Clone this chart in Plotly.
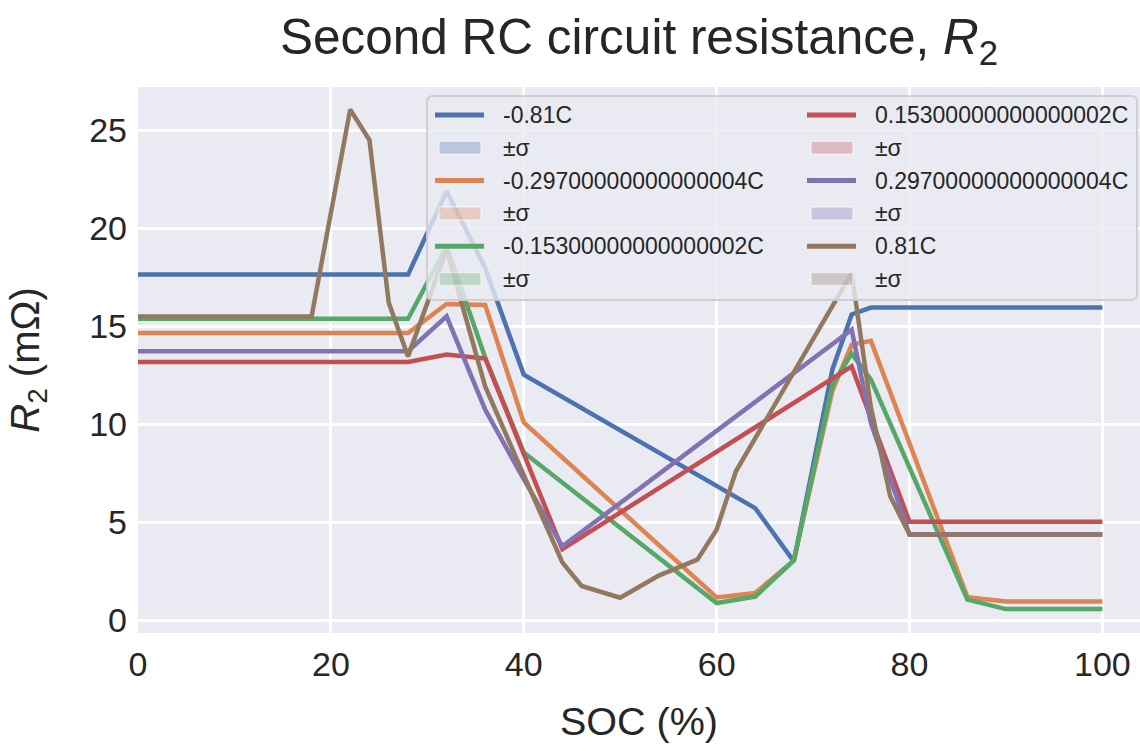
import plotly.graph_objects as go

# C-rate labels for each curve
rates = ["-0.81C", "-0.29700000000000004C", "-0.15300000000000002C",
         "0.15300000000000002C", "0.29700000000000004C", "0.81C"]

# SOC breakpoints (%) and R2 values (mOhm) for each C-rate
soc_m081 = [0, 28, 32, 36, 40, 64, 68, 72, 74, 76, 100]
r2_m081 = [17.63, 17.63, 21.88, 17.97, 12.53, 5.72, 3.0, 12.78, 15.6, 15.95, 15.95]

soc_m0297 = [0, 28, 32, 36, 40, 60, 64, 68, 72, 74, 76, 86, 90, 100]
r2_m0297 = [14.65, 14.65, 16.13, 16.08, 10.09, 1.16, 1.39, 3.05, 11.7, 14.05, 14.25, 1.18, 0.96, 0.96]

soc_m0153 = [0, 28, 32, 36, 40, 60, 64, 68, 72, 74, 76, 86, 90, 100]
r2_m0153 = [15.38, 15.38, 19.07, 13.4, 8.56, 0.88, 1.21, 3.05, 12.0, 13.6, 12.27, 1.05, 0.57, 0.57]

soc_p0153 = [0, 28, 32, 36, 44, 74, 80, 100]
r2_p0153 = [13.17, 13.17, 13.55, 13.35, 3.63, 12.95, 5.02, 5.02]

soc_p0297 = [0, 28, 32, 36, 40, 44, 74, 76, 80, 100]
r2_p0297 = [13.72, 13.72, 15.5, 10.74, 7.2, 3.77, 14.82, 10.06, 4.38, 4.38]

soc_p081 = [0, 18, 22, 24, 26, 28, 32, 36, 40, 44, 46, 50, 54, 58, 60, 62, 74, 76, 78, 80, 100]
r2_p081 = [15.5, 15.5, 26.05, 24.5, 16.2, 13.46, 18.9, 11.93, 7.4, 2.95, 1.75, 1.15, 2.28, 3.09, 4.62, 7.6, 17.71, 10.85, 6.32, 4.38, 4.38]

# standard deviation of R2 across repeats (negligible)
sigma = [0.0, 0.0, 0.0, 0.0, 0.0, 0.0]

series = [
    (soc_m081, r2_m081), (soc_m0297, r2_m0297), (soc_m0153, r2_m0153),
    (soc_p0153, r2_p0153), (soc_p0297, r2_p0297), (soc_p081, r2_p081),
]

colors = ["#4C72B0", "#DD8452", "#55A868", "#C44E52", "#8172B3", "#937860"]
fills = ["rgba(76,114,176,0.3)", "rgba(221,132,82,0.3)", "rgba(85,168,104,0.3)",
         "rgba(196,78,82,0.3)", "rgba(129,114,179,0.3)", "rgba(147,120,96,0.3)"]

FONT = "Liberation Sans, Arial, Helvetica, sans-serif"
INK = "#262626"
W, H = 1140, 751
ML, MR, MT, MB = 138, 0, 87, 118
PW, PH = W - ML - MR, H - MT - MB


def px(x):
    return (x - ML) / PW


def py(y):
    return (H - MB - y) / PH


fig = go.Figure()
for i, ((soc, r2), name) in enumerate(zip(series, rates)):
    fig.add_trace(go.Scatter(
        x=soc, y=r2, mode="lines", name=name,
        line=dict(color=colors[i], width=4.5), showlegend=False,
    ))
    upper = [v + sigma[i] for v in r2]
    lower = [v - sigma[i] for v in r2]
    fig.add_trace(go.Scatter(
        x=soc + soc[::-1], y=upper + lower[::-1], mode="lines",
        fill="toself", fillcolor=fills[i], line=dict(width=0, color=fills[i]),
        name="±σ", hoverinfo="skip", showlegend=False,
    ))

# Legend box: two columns (negative rates left, positive rates right)
box_l, box_r, box_t, box_b, rad = 427, 1137, 96, 300, 6
rx, ry = rad / PW, rad / PH
L, R, T, B = px(box_l), px(box_r), py(box_t), py(box_b)
box_path = (
    f"M{L + rx},{T} L{R - rx},{T} Q{R},{T} {R},{T - ry} "
    f"L{R},{B + ry} Q{R},{B} {R - rx},{B} "
    f"L{L + rx},{B} Q{L},{B} {L},{B + ry} "
    f"L{L},{T - ry} Q{L},{T} {L + rx},{T} Z"
)
shapes = [dict(
    type="path", path=box_path, xref="paper", yref="paper", layer="above",
    fillcolor="rgba(234,234,242,0.8)", line=dict(color="rgba(204,204,204,0.9)", width=2),
)]
annotations = []

col_x = [435, 807]
row_y = [115, 147.8, 180.6, 213.4, 246.2, 279]
for i, name in enumerate(rates):
    col, k = divmod(i, 3)
    x0 = col_x[col]
    y_line = row_y[2 * k]
    y_band = row_y[2 * k + 1]
    shapes.append(dict(
        type="line", xref="paper", yref="paper", layer="above",
        x0=px(x0), x1=px(x0 + 49), y0=py(y_line), y1=py(y_line),
        line=dict(color=colors[i], width=5),
    ))
    shapes.append(dict(
        type="rect", xref="paper", yref="paper", layer="above",
        x0=px(x0 + 4), x1=px(x0 + 46), y0=py(y_band - 6.5), y1=py(y_band + 6.5),
        fillcolor=fills[i], line=dict(color="rgba(255,255,255,0.5)", width=1.5),
    ))
    for text, yy in ((name, y_line), ("±σ", y_band)):
        annotations.append(dict(
            text=text, xref="paper", yref="paper", x=px(x0 + 66), y=py(yy),
            xanchor="left", yanchor="middle", showarrow=False,
            font=dict(size=23, family=FONT, color=INK),
        ))

fig.update_layout(
    width=W, height=H,
    margin=dict(l=ML, r=MR, t=MT, b=MB),
    paper_bgcolor="white", plot_bgcolor="#EAEAF2",
    font=dict(family=FONT, color=INK),
    title=dict(
        text="Second RC circuit resistance, <i>R</i><sub>2</sub>",
        x=0.5, xref="paper", xanchor="center",
        y=1 - 37 / H, yref="container", yanchor="middle",
        font=dict(size=49.5, family=FONT, color=INK),
    ),
    showlegend=False,
    shapes=shapes,
    annotations=annotations,
)

fig.update_xaxes(
    range=[0, 103.9], tickvals=[0, 20, 40, 60, 80, 100],
    showgrid=True, gridcolor="white", gridwidth=2.8, zeroline=False,
    showline=False, ticks="", tickfont=dict(size=34), ticklabelstandoff=8,
    title=dict(text="SOC (%)", font=dict(size=39.5), standoff=25),
)
fig.update_yaxes(
    range=[-0.65, 27.2], tickvals=[0, 5, 10, 15, 20, 25],
    showgrid=True, gridcolor="white", gridwidth=2.8, zeroline=False,
    showline=False, ticks="", tickfont=dict(size=34), ticklabelstandoff=10,
    title=dict(text="<i>R</i><sub>2</sub> (mΩ)", font=dict(size=40), standoff=37),
)

fig.write_html("out.html")
